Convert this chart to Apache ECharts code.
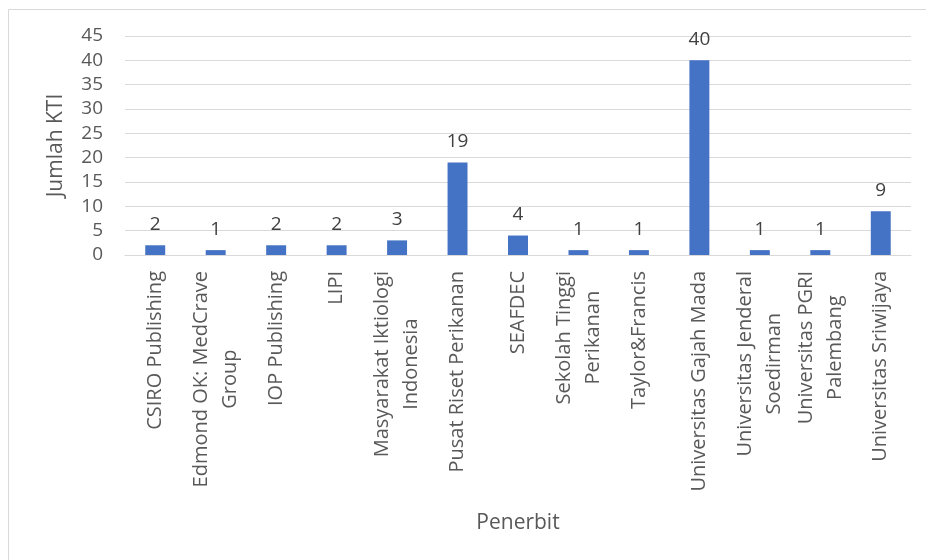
<!DOCTYPE html>
<html>
<head>
<meta charset="utf-8">
<script src="https://cdn.jsdelivr.net/npm/echarts@6/dist/echarts.min.js"></script>
<style>
html,body{margin:0;padding:0;background:#fff;}
#c{width:926px;height:560px;}
</style>
</head>
<body>
<div id="c"></div>
<script>
const categories = [
  'CSIRO Publishing',
  'Edmond OK: MedCrave Group',
  'IOP Publishing',
  'LIPI',
  'Masyarakat Iktiologi Indonesia',
  'Pusat Riset Perikanan',
  'SEAFDEC',
  'Sekolah Tinggi Perikanan',
  'Taylor&Francis',
  'Universitas Gajah Mada',
  'Universitas Jenderal Soedirman',
  'Universitas PGRI Palembang',
  'Universitas Sriwijaya'
];
const tickLabels = [
  ['CSIRO Publishing'],
  ['Edmond OK: MedCrave', 'Group'],
  ['IOP Publishing'],
  ['LIPI'],
  ['Masyarakat Iktiologi', 'Indonesia'],
  ['Pusat Riset Perikanan'],
  ['SEAFDEC'],
  ['Sekolah Tinggi', 'Perikanan'],
  ['Taylor&Francis'],
  ['Universitas Gajah Mada'],
  ['Universitas Jenderal', 'Soedirman'],
  ['Universitas PGRI', 'Palembang'],
  ['Universitas Sriwijaya']
];
const values = [2, 1, 2, 2, 3, 19, 4, 1, 1, 40, 1, 1, 9];
const yTicks = [0, 5, 10, 15, 20, 25, 30, 35, 40, 45];

const FONT = '"Open Sans", "Noto Sans", sans-serif';
const chart = echarts.init(document.getElementById('c'), null, {renderer: 'canvas'});
chart.setOption({
  animation: false,
  backgroundColor: '#fff',
  textStyle: {fontFamily: FONT},
  graphic: [{
    type: 'rect',
    shape: {x: 8.5, y: 9.5, width: 940, height: 580},
    style: {fill: 'none', stroke: '#d9d9d9', lineWidth: 1},
    silent: true, z: -10
  }],
  grid: {left: 125, right: 15, top: 36, bottom: 305, containLabel: false},
  xAxis: {
    type: 'category',
    data: categories,
    name: 'Penerbit',
    nameLocation: 'middle',
    nameGap: 258,
    nameTextStyle: {fontSize: 21, color: '#595959', fontFamily: FONT},
    axisLine: {show: true, lineStyle: {color: '#d9d9d9', width: 1}},
    axisTick: {show: false},
    axisLabel: {
      interval: 0,
      rotate: 90,
      margin: 16,
      fontSize: 20,
      color: '#595959',
      fontFamily: FONT,
      formatter: function (v, i) {
        return tickLabels[i].map(function (s) { return '{c|' + s + '}'; }).join('\n');
      },
      rich: {
        c: {align: 'center', fontSize: 20, lineHeight: 29, color: '#595959', fontFamily: FONT}
      }
    }
  },
  yAxis: {
    type: 'value',
    min: yTicks[0],
    max: yTicks[yTicks.length - 1],
    interval: 5,
    name: 'Jumlah KTI',
    nameLocation: 'middle',
    nameGap: 58,
    nameTextStyle: {fontSize: 21, color: '#595959', fontFamily: FONT},
    axisLine: {show: false},
    axisTick: {show: false},
    axisLabel: {fontSize: 19, color: '#595959', margin: 22, fontFamily: FONT},
    splitLine: {lineStyle: {color: '#d9d9d9', width: 1}}
  },
  series: [{
    type: 'bar',
    data: values,
    barWidth: '33%',
    itemStyle: {color: '#4472c4'},
    label: {
      show: true,
      position: 'top',
      distance: 11,
      fontSize: 19,
      color: '#404040',
      fontFamily: FONT
    }
  }]
});
</script>
</body>
</html>
